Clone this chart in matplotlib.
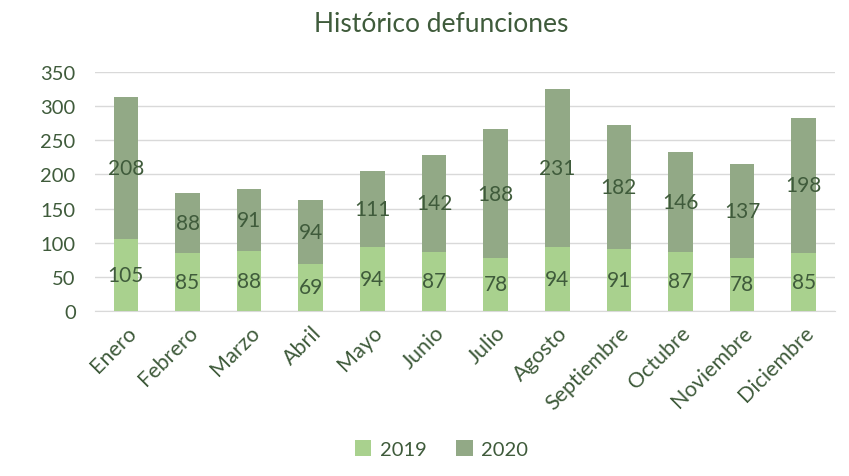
import matplotlib.pyplot as plt
import numpy as np

meses = ['Enero', 'Febrero', 'Marzo', 'Abril', 'Mayo', 'Junio', 'Julio',
         'Agosto', 'Septiembre', 'Octubre', 'Noviembre', 'Diciembre']
d2019 = [105, 85, 88, 69, 94, 87, 78, 94, 91, 87, 78, 85]
d2020 = [208, 88, 91, 94, 111, 142, 188, 231, 182, 146, 137, 198]

c2019 = '#a9d18e'
c2020 = '#92a986'
txt = '#3f5b3b'

plt.rcParams['font.family'] = ['Lato', 'DejaVu Sans']

fig = plt.figure(figsize=(8.49, 4.77), dpi=100)
ax = fig.add_axes([0.112, 0.346, 0.871, 0.501])

x = np.arange(len(meses))
b1 = ax.bar(x, d2019, width=0.4, color=c2019, label='2019', zorder=3)
b2 = ax.bar(x, d2020, width=0.4, bottom=d2019, color=c2020, label='2020', zorder=3)

# etiquetas centradas en cada segmento
ax.bar_label(b1, labels=[str(v) for v in d2019], label_type='center', color=txt, fontsize=15)
ax.bar_label(b2, labels=[str(v) for v in d2020], label_type='center', color=txt, fontsize=15)

ax.set_xlim(-0.5, len(meses) - 0.5)
ax.set_ylim(0, 350)
ax.set_yticks(range(0, 351, 50))
ax.yaxis.grid(True, color='#d9d9d9', linewidth=1, zorder=0)
for s in ['top', 'right', 'left']:
    ax.spines[s].set_visible(False)
ax.spines['bottom'].set_color('#d9d9d9')
ax.tick_params(axis='both', length=0, labelsize=14.5, colors=txt)
ax.tick_params(axis='y', pad=14)
ax.tick_params(axis='x', pad=8, labelsize=15.5)
ax.set_xticks(x)
ax.set_xticklabels(meses, rotation=45, ha='right', rotation_mode='anchor')

fig.suptitle('Histórico defunciones', x=0.52, y=0.975, fontsize=19, color=txt)
fig.legend(loc='lower center', bbox_to_anchor=(0.52, 0.0), ncol=2, frameon=False,
           fontsize=14.5, labelcolor=txt, handlelength=0.8, handleheight=0.8,
           handletextpad=0.4, columnspacing=1.5)

fig.savefig('out.png', dpi=100)
